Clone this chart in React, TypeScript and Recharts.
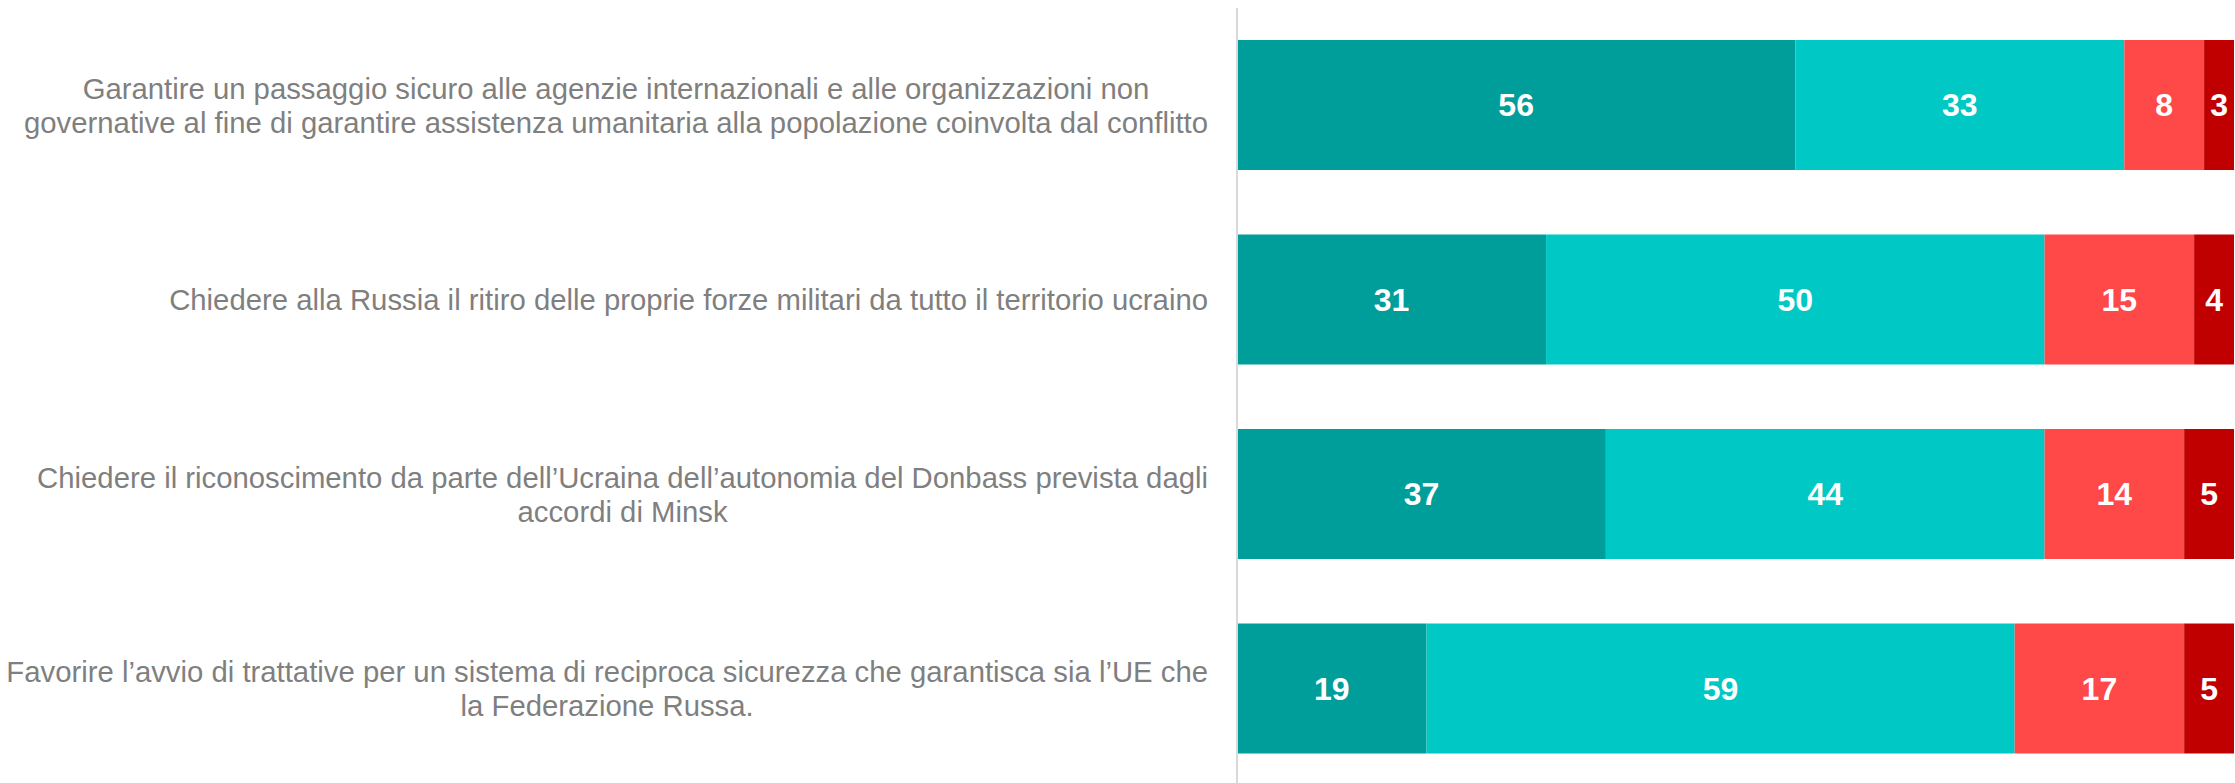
import React from 'react';
import { BarChart, Bar, XAxis, YAxis, LabelList } from 'recharts';

const categories = [
  'Garantire un passaggio sicuro alle agenzie internazionali e alle organizzazioni non governative al fine di garantire assistenza umanitaria alla popolazione coinvolta dal conflitto',
  'Chiedere alla Russia il ritiro delle proprie forze militari da tutto il territorio ucraino',
  'Chiedere il riconoscimento da parte dell’Ucraina dell’autonomia del Donbass prevista dagli accordi di Minsk',
  'Favorire l’avvio di trattative per un sistema di reciproca sicurezza che garantisca sia l’UE che la Federazione Russa.',
];

const tickLines = [
  [
    'Garantire un passaggio sicuro alle agenzie internazionali e alle organizzazioni non',
    'governative al fine di garantire assistenza umanitaria alla popolazione coinvolta dal conflitto',
  ],
  ['Chiedere alla Russia il ritiro delle proprie forze militari da tutto il territorio ucraino'],
  [
    'Chiedere il riconoscimento da parte dell’Ucraina dell’autonomia del Donbass prevista dagli',
    'accordi di Minsk',
  ],
  [
    'Favorire l’avvio di trattative per un sistema di reciproca sicurezza che garantisca sia l’UE che',
    'la Federazione Russa.',
  ],
];

const molto = [56, 31, 37, 19];
const abbastanza = [33, 50, 44, 59];
const poco = [8, 15, 14, 17];
const perNiente = [3, 4, 5, 5];

const data = categories.map((c, i) => ({
  name: c,
  molto: molto[i],
  abbastanza: abbastanza[i],
  poco: poco[i],
  perNiente: perNiente[i],
}));

const FONT = '"Liberation Sans", Arial, sans-serif';
const TICK_SIZE = 29.3;
const LINE_H = 34;

let ctx: CanvasRenderingContext2D | null = null;
function textWidth(s: string) {
  if (!ctx) ctx = document.createElement('canvas').getContext('2d');
  if (!ctx) return s.length * 13;
  ctx.font = `${TICK_SIZE}px "Liberation Sans"`;
  return ctx.measureText(s).width;
}

// right-aligned block, each line centred inside it
const CategoryTick = ({ x, y, payload }: any) => {
  const lines = tickLines[payload.index] || [String(payload.value)];
  const maxW = Math.max(...lines.map(textWidth));
  const cx = x - maxW / 2;
  const startY = y - ((lines.length - 1) * LINE_H) / 2;
  return (
    <g>
      {lines.map((l, i) => (
        <text
          key={i}
          x={cx}
          y={startY + i * LINE_H}
          dy="0.36em"
          textAnchor="middle"
          fill="#7f7f7f"
          fontSize={TICK_SIZE}
          fontFamily={FONT}
        >
          {l}
        </text>
      ))}
    </g>
  );
};

const labelStyle = { fill: '#ffffff', fontSize: 32, fontWeight: 700, fontFamily: FONT };

export default function App() {
  React.useEffect(() => {
    document.body.style.margin = '0';
  }, []);

  return (
    <div style={{ width: 2235, height: 783, background: '#fff' }}>
      <BarChart
        width={2235}
        height={783}
        data={data}
        layout="vertical"
        margin={{ top: 8, right: 1, bottom: -3, left: 0 }}
        barSize={130}
      >
        <XAxis type="number" domain={[0, 100]} hide />
        <YAxis
          type="category"
          dataKey="name"
          width={1237}
          axisLine={{ stroke: '#d9d9d9', strokeWidth: 2 }}
          tickLine={false}
          tickMargin={23}
          tick={<CategoryTick />}
          interval={0}
        />
        <Bar dataKey="molto" stackId="a" fill="#009e9a" isAnimationActive={false}>
          <LabelList dataKey="molto" position="center" style={labelStyle} />
        </Bar>
        <Bar dataKey="abbastanza" stackId="a" fill="#00c8c5" isAnimationActive={false}>
          <LabelList dataKey="abbastanza" position="center" style={labelStyle} />
        </Bar>
        <Bar dataKey="poco" stackId="a" fill="#ff4848" isAnimationActive={false}>
          <LabelList dataKey="poco" position="center" style={labelStyle} />
        </Bar>
        <Bar dataKey="perNiente" stackId="a" fill="#c00000" isAnimationActive={false}>
          <LabelList dataKey="perNiente" position="center" style={labelStyle} />
        </Bar>
      </BarChart>
    </div>
  );
}
